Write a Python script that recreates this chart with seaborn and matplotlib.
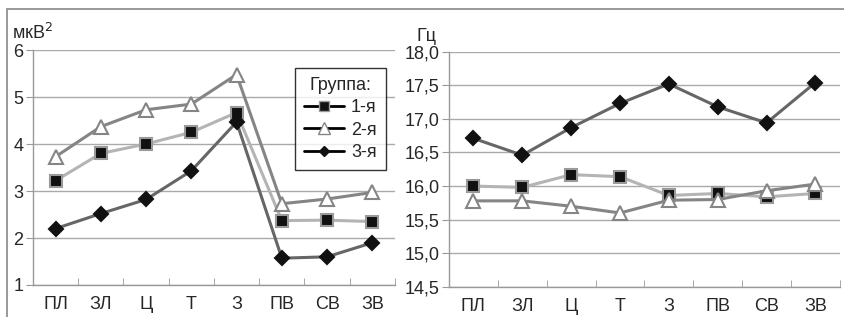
import matplotlib
matplotlib.use("Agg")
import matplotlib.pyplot as plt
import matplotlib.ticker as mticker
from matplotlib.patches import Rectangle
from matplotlib.lines import Line2D
import seaborn as sns
import pandas as pd

categories = ["ПЛ", "ЗЛ", "Ц", "Т", "З", "ПВ", "СВ", "ЗВ"]
groups = ["1-я", "2-я", "3-я"]

# power, мкВ^2
power_g1 = [3.22, 3.80, 4.00, 4.25, 4.67, 2.37, 2.38, 2.35]
power_g2 = [3.73, 4.37, 4.73, 4.85, 5.48, 2.73, 2.83, 2.97]
power_g3 = [2.20, 2.52, 2.82, 3.43, 4.47, 1.57, 1.60, 1.90]

# frequency, Гц
freq_g1 = [16.00, 15.98, 16.17, 16.14, 15.86, 15.89, 15.84, 15.89]
freq_g2 = [15.78, 15.78, 15.70, 15.60, 15.79, 15.80, 15.93, 16.03]
freq_g3 = [16.71, 16.46, 16.87, 17.23, 17.52, 17.18, 16.94, 17.54]

styles = {
    "1-я": dict(color="#b4b4b4", marker="s", mfc="#111111", mec="#9a9a9a", ms=9),
    "2-я": dict(color="#858585", marker="^", mfc="white", mec="#858585", ms=10),
    "3-я": dict(color="#666666", marker="D", mfc="#111111", mec="#111111", ms=7),
}

sns.set_style("white")
plt.rcParams["font.family"] = ["Liberation Sans", "DejaVu Sans"]

fig = plt.figure(figsize=(8.44, 3.17), dpi=100)
ax1 = fig.add_axes([0.039, 0.101, 0.429, 0.741])
ax2 = fig.add_axes([0.532, 0.095, 0.463, 0.742])

# frame around the picture
fig.patches.append(Rectangle((7 / 844, -0.05), 1.1, 1 - 9 / 317 + 0.05,
                             transform=fig.transFigure, fill=False,
                             edgecolor="#888888", lw=1.2))


def draw(ax, series):
    df = pd.DataFrame({"x": list(range(len(categories))) * 3,
                       "y": sum(series, []),
                       "g": [g for g in groups for _ in categories]})
    for g in groups:
        st = styles[g]
        sns.lineplot(data=df[df.g == g], x="x", y="y", ax=ax, color=st["color"],
                     lw=2.2, marker=st["marker"], markerfacecolor=st["mfc"],
                     markeredgecolor=st["mec"], markeredgewidth=1.5,
                     markersize=st["ms"], zorder=3)
    ax.set_xlim(-0.5, len(categories) - 0.5)
    ax.set_xticks(range(len(categories)))
    ax.set_xticklabels(categories)
    ax.xaxis.set_minor_locator(mticker.FixedLocator(
        [i - 0.5 for i in range(len(categories) + 1)]))
    ax.tick_params(axis="x", which="major", length=0, labelsize=13, pad=8)
    ax.tick_params(axis="x", which="minor", length=5, color="#999999",
                   direction="in", bottom=True)
    ax.tick_params(axis="y", length=5, color="#999999", labelsize=13,
                   left=True, direction="out", pad=2)
    ax.set_xlabel("")
    ax.set_ylabel("")
    ax.grid(axis="y", color="#aaaaaa", lw=1)
    ax.set_axisbelow(True)
    for s in ("top", "right"):
        ax.spines[s].set_visible(False)
    for s in ("left", "bottom"):
        ax.spines[s].set_color("#999999")
        ax.spines[s].set_linewidth(1)


draw(ax1, [power_g1, power_g2, power_g3])
ax1.set_ylim(1, 6)
ax1.set_yticks([1, 2, 3, 4, 5, 6])
ax1.text(-0.058, 1.03, "мкВ$^2$", transform=ax1.transAxes, fontsize=13,
         va="bottom", ha="left")

draw(ax2, [freq_g1, freq_g2, freq_g3])
ax2.set_ylim(14.5, 18.0)
ax2.set_yticks([14.5, 15.0, 15.5, 16.0, 16.5, 17.0, 17.5, 18.0])
ax2.yaxis.set_major_formatter(
    mticker.FuncFormatter(lambda v, p: f"{v:.1f}".replace(".", ",")))
ax2.text(-0.082, 1.03, "Гц", transform=ax2.transAxes, fontsize=13,
         va="bottom", ha="left")

handles = [Line2D([], [], color="black", lw=2, marker=styles[g]["marker"],
                  markerfacecolor=styles[g]["mfc"], markeredgecolor=styles[g]["mec"],
                  markersize=styles[g]["ms"] - 2) for g in groups]
leg = ax1.legend(handles, groups, title="Группа:", loc="upper left",
                 bbox_to_anchor=(0.724, 0.925), fontsize=13, title_fontsize=13,
                 frameon=True, fancybox=False, edgecolor="black",
                 handlelength=2.2, handletextpad=0.4, borderpad=0.5,
                 labelspacing=0.3, borderaxespad=0)
leg.get_frame().set_linewidth(1)

fig.savefig("out.png", dpi=100)
